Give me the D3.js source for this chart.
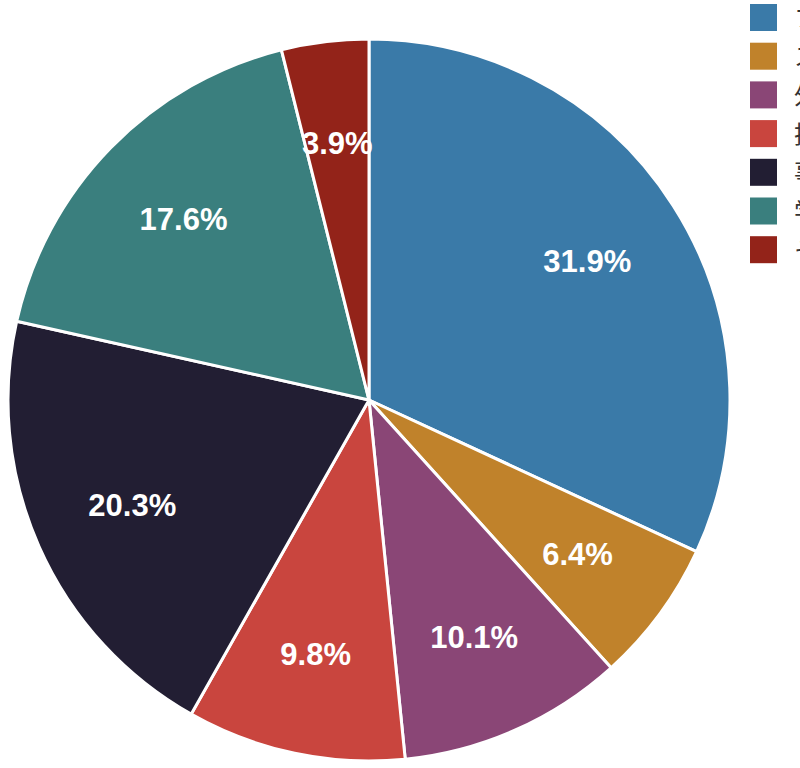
<!DOCTYPE html>
<html><head><meta charset="utf-8">
<script src="https://cdn.jsdelivr.net/npm/d3@7"></script>
<style>html,body{margin:0;padding:0;background:#fff;overflow:hidden}</style>
</head><body>
<svg id="chart" width="800" height="768"></svg>
<script>
const categories = ["フリーランス", "スタートアップ", "外資系企業", "技術職", "事業会社", "学生", "その他"];
const values = [31.9, 6.4, 10.1, 9.8, 20.3, 17.6, 3.9];
const colors = ["#3a7aa8", "#c0822b", "#8a4676", "#c9453e", "#221e33", "#3a7f7e", "#932319"];

const svg = d3.select("#chart");
const cx = 369, cy = 400, r = 361;
const pie = d3.pie().sort(null).value(d => d)(values);
const arc = d3.arc().innerRadius(0).outerRadius(r);
const labelArc = d3.arc().innerRadius(259).outerRadius(259);

const g = svg.append("g").attr("transform", `translate(${cx},${cy})`);
g.selectAll("path").data(pie).join("path")
  .attr("d", arc)
  .attr("fill", (d, i) => colors[i])
  .attr("stroke", "#fff")
  .attr("stroke-width", 3)
  .attr("stroke-linejoin", "round");

g.selectAll("text").data(pie).join("text")
  .attr("transform", d => `translate(${labelArc.centroid(d)})`)
  .attr("text-anchor", "middle")
  .attr("dy", "0.36em")
  .attr("fill", "#fff")
  .attr("font-family", "Liberation Sans, Arial, sans-serif")
  .attr("font-weight", "bold")
  .attr("font-size", 31)
  .text(d => d.data.toFixed(1) + "%");

const legend = svg.append("g").attr("transform", "translate(750,4)");
const items = legend.selectAll("g").data(categories).join("g")
  .attr("transform", (d, i) => `translate(0,${i * 38.7})`);
items.append("rect").attr("width", 27).attr("height", 27)
  .attr("fill", (d, i) => colors[i]);
items.append("text").attr("x", 44).attr("y", 14).attr("dy", "0.36em")
  .attr("font-family", "Noto Sans CJK JP, sans-serif")
  .attr("font-size", 24).attr("fill", "#333")
  .text(d => d);
</script>
</body></html>
